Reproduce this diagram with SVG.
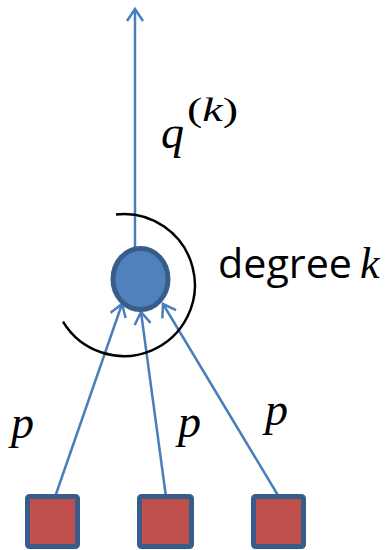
<svg xmlns="http://www.w3.org/2000/svg" width="391" height="550" viewBox="0 0 391 550">
<style>
.conn{stroke:#4A7EBB;stroke-width:2.5;fill:none}
.src{fill:#C0504D;stroke:#385D8A;stroke-width:5}
.hub{fill:#4F81BD;stroke:#385D8A;stroke-width:5}
.math{font-family:"Liberation Serif",serif;font-style:italic;fill:#000}
.up{font-family:"Liberation Serif",serif;font-style:normal;fill:#000}
.lbl{font-family:"Open Sans","Noto Sans",sans-serif;fill:#000}
</style>
<defs>
<marker id="ah" markerUnits="userSpaceOnUse" markerWidth="30" markerHeight="30" refX="0" refY="0" viewBox="-15 -15 30 30" orient="auto" overflow="visible">
<path d="M -12 -8 L 0 0 L -12 8" fill="none" stroke="#4A7EBB" stroke-width="2.5"/>
</marker>
</defs>
<rect width="391" height="550" fill="#fff"/>
<g id="connectors">
<line class="conn" x1="135" y1="248" x2="135" y2="9" marker-end="url(#ah)"/>
<line class="conn" x1="55" y1="497" x2="122" y2="304" marker-end="url(#ah)"/>
<line class="conn" x1="166" y1="497" x2="141" y2="312" marker-end="url(#ah)"/>
<line class="conn" x1="279" y1="497" x2="163" y2="304" marker-end="url(#ah)"/>
</g>
<g id="degree-arc">
<path d="M 116 214.5 A 71 71 0 1 1 63 321.6" fill="none" stroke="#000" stroke-width="2.5"/>
</g>
<g id="hub">
<ellipse class="hub" cx="140.5" cy="279" rx="27.5" ry="30.5"/>
</g>
<g id="src1"><rect class="src" x="27.5" y="496.5" width="50" height="50" rx="2"/></g>
<g id="src2"><rect class="src" x="139.5" y="496.5" width="52" height="50" rx="2"/></g>
<g id="src3"><rect class="src" x="253.5" y="496.5" width="50" height="50" rx="2"/></g>
<g id="labels">
<text class="math" x="161" y="148" font-size="46">q</text>
<text class="up" x="187" y="121" font-size="34" textLength="51" lengthAdjust="spacingAndGlyphs">(<tspan class="math">k</tspan>)</text>
<text class="lbl" x="218" y="278" font-size="41" textLength="134" lengthAdjust="spacingAndGlyphs">degree</text>
<text class="math" x="360" y="278" font-size="44">k</text>
<text class="math" x="11" y="438" font-size="46">p</text>
<text class="math" x="178" y="437" font-size="46">p</text>
<text class="math" x="265" y="425" font-size="46">p</text>
</g>
</svg>
